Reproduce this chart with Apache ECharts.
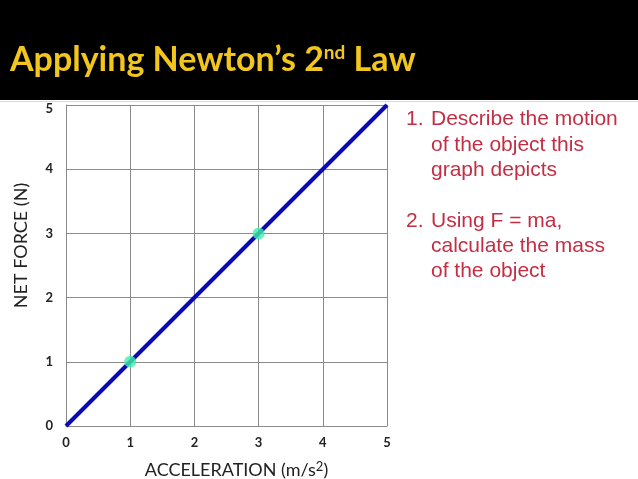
<!DOCTYPE html>
<html>
<head>
<meta charset="utf-8">
<script src="https://cdn.jsdelivr.net/npm/echarts@6/dist/echarts.min.js"></script>
<style>
  html, body { margin: 0; padding: 0; background: #fff; }
  #main { width: 638px; height: 479px; }
</style>
</head>
<body>
<div id="main"></div>
<script>
// straight line F = m a, drawn between its end points
const lineAccel = [0, 5];
const lineForce = [0, 5];
// the two marked points
const pointAccel = [1, 3];
const pointForce = [1, 3];
const tickValues = [0, 1, 2, 3, 4, 5];

const questions = [
  ['1.', 'Describe the motion'],
  ['', 'of the object this'],
  ['', 'graph depicts'],
  ['2.', 'Using F = ma,'],
  ['', 'calculate the mass'],
  ['', 'of the object']
];
const questionY = [121, 147, 172, 223, 248, 273];

const chart = echarts.init(document.getElementById('main'));

const qFont = '21px "Liberation Sans", Arial, sans-serif';
const questionText = [];
questions.forEach((q, i) => {
  if (q[0]) {
    questionText.push({
      type: 'text', left: 406, top: questionY[i] - 12,
      style: { text: q[0], fill: '#c42e44', font: qFont }
    });
  }
  questionText.push({
    type: 'text', left: 431, top: questionY[i] - 12,
    style: { text: q[1], fill: '#c42e44', font: qFont }
  });
});

const option = {
  backgroundColor: '#fff',
  animation: false,
  graphic: [
    { type: 'rect', left: 0, top: 0, z: -1, shape: { width: 638, height: 100 }, style: { fill: '#000' } },
    { type: 'rect', left: 0, top: 101, z: -1, shape: { width: 638, height: 1 }, style: { fill: '#d8d8d8' } },
    ...questionText
  ],
  title: {
    text: 'Applying Newton’s 2{sup|nd} Law',
    left: 5,
    top: 38,
    textStyle: {
      color: '#f2c61c',
      fontFamily: 'Lato',
      fontWeight: 'bold',
      fontSize: 34,
      rich: {
        sup: { color: '#f2c61c', fontFamily: 'Lato', fontWeight: 'bold', fontSize: 19, verticalAlign: 'top', padding: [0, 0, 14, 0] }
      }
    }
  },
  grid: { left: 66, right: 251, top: 105, bottom: 53, outerBoundsMode: 'none', containLabel: false },
  xAxis: {
    type: 'value',
    min: 0, max: 5, interval: 1,
    name: 'ACCELERATION (m/s{sup|2})',
    nameLocation: 'middle',
    nameGap: 34,
    nameTextStyle: {
      color: '#222', fontFamily: 'Lato', fontSize: 18, padding: [0, 0, 0, 20],
      rich: { sup: { color: '#222', fontFamily: 'Lato', fontSize: 13, verticalAlign: 'top', padding: [0, 0, 8, 0] } }
    },
    axisLine: { show: true, lineStyle: { color: '#8a8a8a', width: 1 } },
    axisTick: { show: false },
    splitLine: { show: true, lineStyle: { color: '#8a8a8a', width: 1 } },
    axisLabel: {
      margin: 10, color: '#222', fontFamily: 'Lato', fontWeight: 'bold', fontSize: 13,
      formatter: v => tickValues.includes(v) ? String(v) : ''
    }
  },
  yAxis: {
    type: 'value',
    min: 0, max: 5, interval: 1,
    name: 'NET FORCE (N)',
    nameLocation: 'middle',
    nameGap: 36,
    nameTextStyle: { color: '#222', fontFamily: 'Lato', fontSize: 18, padding: [0, 0, 0, 40] },
    axisLine: { show: true, lineStyle: { color: '#8a8a8a', width: 1 } },
    axisTick: { show: false },
    splitLine: { show: true, lineStyle: { color: '#8a8a8a', width: 1 } },
    axisLabel: {
      margin: 13, color: '#222', fontFamily: 'Lato', fontWeight: 'bold', fontSize: 13,
      formatter: v => v === 5 ? '{top|5}' : String(v),
      rich: { top: { color: '#222', fontFamily: 'Lato', fontWeight: 'bold', fontSize: 13, padding: [8, 0, 0, 0] } }
    }
  },
  series: [
    {
      type: 'line',
      data: lineAccel.map((a, i) => [a, lineForce[i]]),
      symbol: 'none',
      lineStyle: { color: '#0a0ab4', width: 4 },
      z: 2
    },
    {
      type: 'scatter',
      data: pointAccel.map((a, i) => [a, pointForce[i]]),
      symbolSize: 12,
      itemStyle: { color: '#40f0a8' },
      z: 3
    }
  ]
};

chart.setOption(option);
</script>
</body>
</html>
